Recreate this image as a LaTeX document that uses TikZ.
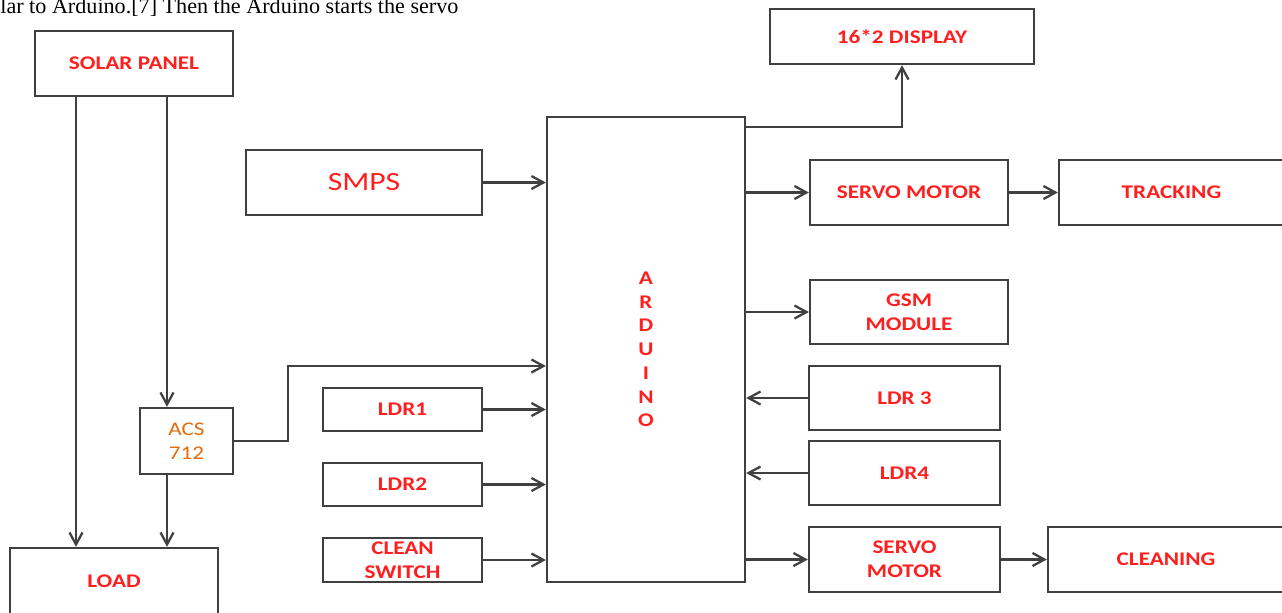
\documentclass[tikz,border=0pt]{standalone}
\usepackage{fontspec}
\usepackage{tikz}
\usetikzlibrary{arrows.meta,calc}
\setmainfont{Liberation Serif}
\newfontfamily\boxfont[FakeStretch=1.2]{Carlito}
\definecolor{linegray}{HTML}{404040}
\definecolor{lblred}{HTML}{FF1F1F}
\definecolor{lblorange}{HTML}{E46C0A}

\begin{document}
\begin{tikzpicture}[x=0.2mm,y=-0.2mm,
    block/.style={rectangle,draw=linegray,line width=1.3pt,fill=white,inner sep=0pt,
                  font=\boxfont\bfseries\fontsize{11}{13.6}\selectfont,text=lblred,align=center},
    arrow/.style={-{Straight Barb[length=2.4mm,width=2.6mm]},draw=linegray,line width=1.3pt}
]
\useasboundingbox (0,0) rectangle (1282,612);
\clip (0,0) rectangle (1282,612);

% line of running text cut by the figure
\node[anchor=base west,inner sep=0pt,font=\fontsize{12.6}{14}\selectfont] (caption) at (0,13)
    {lar to Arduino.[7] Then the Arduino starts the servo};

% left side
\node[block,minimum width=39.6mm,minimum height=13mm] (solar) at (134,63.5) {SOLAR PANEL};
\node[block,minimum width=41.6mm,minimum height=13.2mm] (load) at (114,581) {LOAD};
\node[block,minimum width=18.6mm,minimum height=13.2mm,text=lblorange,
      font=\boxfont\fontsize{11}{13.6}\selectfont] (acs) at (186.5,441) {ACS\\712};

% inputs
\node[block,minimum width=47.2mm,minimum height=13mm,
      font=\boxfont\fontsize{15}{18}\selectfont] (smps) at (364,182.5) {SMPS};
\node[block,minimum width=31.8mm,minimum height=8.6mm] (ldr1) at (402.5,409.5) {LDR1};
\node[block,minimum width=31.8mm,minimum height=8.6mm] (ldr2) at (402.5,484.5) {LDR2};
\node[block,minimum width=31.8mm,minimum height=8.8mm] (clean) at (402.5,560) {CLEAN\\SWITCH};

% controller
\node[block,minimum width=39.6mm,minimum height=93mm,
      font=\boxfont\bfseries\fontsize{11}{13.5}\selectfont] (ard) at (646,349.5) {A\\R\\D\\U\\I\\N\\O};

% right side
\node[block,minimum width=52.8mm,minimum height=11mm] (disp) at (902,36.5) {16*2 DISPLAY};
\node[block,minimum width=39.6mm,minimum height=13mm] (servoa) at (909,192.5) {SERVO MOTOR};
\node[block,minimum width=45mm,minimum height=13mm] (track) at (1171.5,192.5) {TRACKING};
\node[block,minimum width=39.6mm,minimum height=12.8mm] (gsm) at (909,312) {GSM\\MODULE};
\node[block,minimum width=38.2mm,minimum height=12.8mm] (ldr3) at (904.5,398) {LDR 3};
\node[block,minimum width=38.2mm,minimum height=12.8mm] (ldr4) at (904.5,473) {LDR4};
\node[block,minimum width=38.2mm,minimum height=13mm] (servob) at (904.5,559.5) {SERVO\\MOTOR};
\node[block,minimum width=47.2mm,minimum height=13mm] (cleaning) at (1166,559.5) {CLEANING};

% power path
\draw[arrow] ([xshift=-11.6mm]solar.south) coordinate (sa) -- (sa |- load.north);
\draw[arrow] ([xshift=6.6mm]solar.south) coordinate (sb) -- (sb |- acs.north);
\draw[arrow] ([xshift=-3.9mm]acs.south) coordinate (ab) -- (ab |- load.north);
\draw[arrow] (acs.east) -- ++(54,0) |- ([yshift=-3.3mm]ard.west);

% into arduino
\draw[arrow] (smps.east) -- (smps.east -| ard.west);
\draw[arrow] (ldr1.east) -- (ldr1.east -| ard.west);
\draw[arrow] (ldr2.east) -- (ldr2.east -| ard.west);
\draw[arrow] (clean.east) -- (clean.east -| ard.west);
\draw[arrow] (ldr3.west) -- (ldr3.west -| ard.east);
\draw[arrow] (ldr4.west) -- (ldr4.west -| ard.east);

% out of arduino
\draw[arrow] ([yshift=-2.2mm]ard.north east) -| (disp.south);
\draw[arrow] (ard.east |- servoa.west) -- (servoa.west);
\draw[arrow] (ard.east |- gsm.west) -- (gsm.west);
\draw[arrow] (ard.east |- servob.west) -- (servob.west);
\draw[arrow] (servoa) -- (track);
\draw[arrow] (servob) -- (cleaning);
\end{tikzpicture}
\end{document}
